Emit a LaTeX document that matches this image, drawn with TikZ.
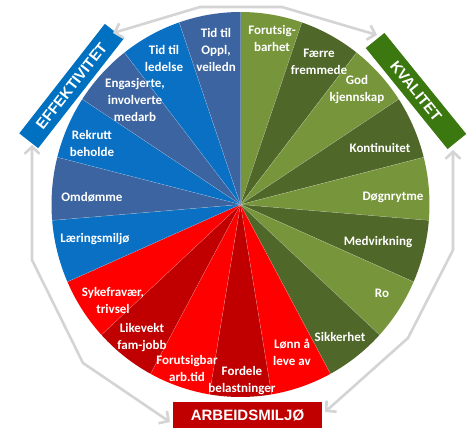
\documentclass[tikz,border=0pt]{standalone}
\usepackage{fontspec}
\setmainfont{Carlito}
\newfontfamily\boxfont{Liberation Sans}
\usetikzlibrary{arrows.meta}
\definecolor{bdark}{HTML}{3C64A0}
\definecolor{bbright}{HTML}{0A70C4}
\definecolor{glight}{HTML}{77963C}
\definecolor{gdark}{HTML}{4F6728}
\definecolor{rbright}{HTML}{FF0000}
\definecolor{rdark}{HTML}{C00000}
\definecolor{kgreen}{HTML}{3C7810}
\definecolor{effblue}{HTML}{0070C0}
\definecolor{arrowgray}{HTML}{D4D4D4}
\begin{document}
\begin{tikzpicture}[x=1pt,y=-1pt,
  lbl/.style={text=white, font=\fontsize{13}{17}\selectfont\bfseries, align=center, inner sep=0pt},
  catbox/.style={fill=#1, text=white, font=\boxfont\fontsize{15}{18}\selectfont\bfseries, inner sep=0pt},
  garrow/.style={draw=arrowgray, line width=2.6pt, line join=round, {Straight Barb[length=7pt,width=15pt]}-{Straight Barb[length=7pt,width=15pt]}}
]
\useasboundingbox (0,0) rectangle (471,429);
\fill[white] (0,0) rectangle (471,429);
\coordinate (C) at (240.5,204.5);
\foreach \k/\col in {0/glight,1/gdark,2/glight,3/gdark,4/glight,5/gdark,6/glight,7/gdark,
                     8/rbright,9/rdark,10/rbright,11/rdark,12/rbright,
                     13/bbright,14/bdark,15/bbright,16/bdark,17/bbright,18/bdark}{
  \pgfmathsetmacro\a{-90+\k*360/19}
  \pgfmathsetmacro\b{-90+(\k+1)*360/19}
  \fill[\col] (C) -- ++(\a:189 and 192.5) arc[start angle=\a, end angle=\b, x radius=189, y radius=192.5] -- cycle;
  \draw[white, opacity=0.35, line width=0.4pt] (C) -- ++(\a:189 and 192.5);
}
% green labels
\node[lbl] (g0) at (272,38) {Forutsig-\\barhet};
\node[lbl] (g1) at (319,62) {Færre\\fremmede};
\node[lbl] (g2) at (357,90) {God\\kjennskap};
\node[lbl] (g3) at (380,148) {Kontinuitet};
\node[lbl] (g4) at (393,197) {Døgnrytme};
\node[lbl] (g5) at (378,242) {Medvirkning};
\node[lbl] (g6) at (382,293) {Ro};
\node[lbl] (g7) at (340,337) {Sikkerhet};
% red labels
\node[lbl] (r0) at (292,352) {Lønn å\\leve av};
\node[lbl] (r1) at (242,381) {Fordele\\belastninger};
\node[lbl] (r2) at (187,368) {Forutsigbar\\arb.tid};
\node[lbl] (r3) at (142,338) {Likevekt\\fam-jobb};
\node[lbl] (r4) at (113,300) {Sykefravær,\\trivsel};
% blue labels
\node[lbl] (b0) at (95,239) {Læringsmiljø};
\node[lbl] (b1) at (92,197) {Omdømme};
\node[lbl] (b2) at (92,143) {Rekrutt\\beholde};
\node[lbl] (b3) at (135,100) {Engasjerte,\\involverte\\medarb};
\node[lbl] (b4) at (164,58) {Tid til\\ledelse};
\node[lbl] (b5) at (216,50) {Tid til\\Oppl,\\veiledn};
% category boxes
\node[catbox=effblue, minimum width=139pt, minimum height=24pt, rotate=52] (eff) at (71.5,86) {EFFEKTIVITET};
\node[catbox=kgreen, minimum width=130pt, minimum height=24pt, rotate=-51] (kval) at (416,91) {KVALITET};
\node[catbox=rdark, minimum width=149pt, minimum height=26pt] (arb) at (247.5,415) {ARBEIDSMILJØ};
% arrows
\coordinate (t1) at (113,33);
\coordinate (t2) at (200,7);
\coordinate (t3) at (282,7);
\coordinate (t4) at (377,35);
\coordinate (l1) at (32,145);
\coordinate (l2) at (32,260);
\coordinate (l3) at (83,363);
\coordinate (l4) at (170,422);
\coordinate (q1) at (453,150);
\coordinate (q2) at (453,250);
\coordinate (q3) at (408,338);
\coordinate (q4) at (325,412);
\draw[garrow] (t1) -- (t2) -- (t3) -- (t4);
\draw[garrow] (l1) -- (l2) -- (l3) -- (l4);
\draw[garrow] (q1) -- (q2) -- (q3) -- (q4);
\end{tikzpicture}
\end{document}
